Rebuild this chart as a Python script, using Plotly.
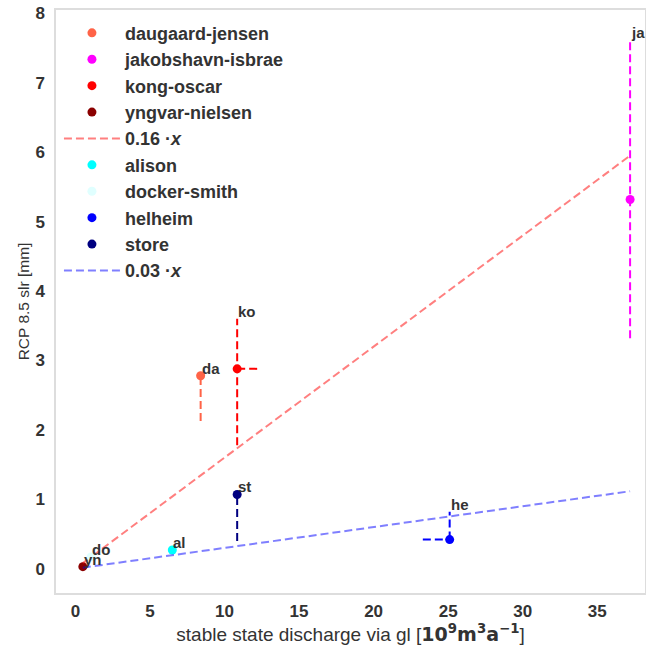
import numpy as np
import plotly.graph_objects as go

# glaciers, grouped by fit
glaciers = ["daugaard-jensen", "jakobshavn-isbrae", "kong-oscar", "yngvar-nielsen",
            "alison", "docker-smith", "helheim", "store"]
short = ["da", "ja", "ko", "yn", "al", "do", "he", "st"]
colors = ["tomato", "magenta", "red", "darkred", "cyan", "lightcyan", "blue", "navy"]
group = [0, 0, 0, 0, 1, 1, 1, 1]

discharge = [8.4, 37.2, 10.85, 0.5, 6.5, 1.05, 25.1, 10.85]
slr = [2.78, 5.32, 2.88, 0.03, 0.27, 0.17, 0.42, 1.07]
slr_err_minus = [0.65, 2.0, 1.1, 0.0, 0.0, 0.0, 0.0, 0.67]
slr_err_plus = [0.0, 2.3, 0.72, 0.0, 0.0, 0.0, 0.4, 0.0]
q_err_minus = [0.0, 0.0, 0.0, 0.0, 0.0, 0.0, 1.8, 0.0]
q_err_plus = [0.0, 0.0, 1.4, 0.0, 0.0, 0.0, 0.0, 0.0]

slopes = [0.16, 0.03]
fit_colors = ["rgba(255,0,0,0.5)", "rgba(0,0,255,0.5)"]

font = "Liberation Sans, Arial, sans-serif"
dash = "8px,4px"
fig = go.Figure()

def add_errors(i):
    c = colors[i]
    x, y = discharge[i], slr[i]
    segs = []
    if slr_err_minus[i] or slr_err_plus[i]:
        segs.append(([x, x], [y - slr_err_minus[i], y + slr_err_plus[i]]))
    if q_err_minus[i] or q_err_plus[i]:
        segs.append(([x - q_err_minus[i], x + q_err_plus[i]], [y, y]))
    for xs, ys in segs:
        fig.add_trace(go.Scatter(x=xs, y=ys, mode="lines", showlegend=False,
                                 line=dict(color=c, width=2, dash=dash),
                                 hoverinfo="skip"))

for g in range(2):
    idx = [i for i in range(len(glaciers)) if group[i] == g]
    for i in idx:
        add_errors(i)
        fig.add_trace(go.Scatter(
            x=[discharge[i]], y=[slr[i]], mode="markers",
            marker=dict(color=colors[i], size=9),
            name="<b>" + glaciers[i] + "</b>"))
        # label sits on top of the upper error bar
        fig.add_annotation(x=discharge[i], y=slr[i] + slr_err_plus[i],
                           text="<b>" + short[i] + "</b>", showarrow=False,
                           xanchor="left", yanchor="bottom", xshift=-1, yshift=-3,
                           font=dict(size=15, color="#333333", family=font))
    xs = np.array([min(discharge), max(discharge)])
    fig.add_trace(go.Scatter(
        x=xs, y=slopes[g] * xs, mode="lines",
        line=dict(color=fit_colors[g], width=2, dash=dash),
        name="<b>%.2f \u00b7<i>x</i></b>" % slopes[g]))

unit = ("<span style=\"font-family:'DejaVu Sans';font-weight:bold\">"
        "10<sup>9</sup>m<sup>3</sup>a<sup>\u22121</sup></span>")

fig.update_layout(
    width=646, height=649,
    margin=dict(l=56, r=1, t=10, b=56),
    plot_bgcolor="white", paper_bgcolor="white",
    font=dict(family=font, color="#333333"),
    legend=dict(x=0.005, y=0.992, xanchor="left", yanchor="top",
                font=dict(size=18, color="#333333"), itemwidth=56,
                bgcolor="rgba(0,0,0,0)", tracegroupgap=0),
    xaxis=dict(range=[-1.3, 38.2], tickvals=[0, 5, 10, 15, 20, 25, 30, 35],
               ticktext=["<b>%d</b>" % v for v in [0, 5, 10, 15, 20, 25, 30, 35]],
               tickfont=dict(size=17), showgrid=False, zeroline=False,
               showline=True, linecolor="#dddddd", linewidth=1.5, mirror=True,
               automargin=False, ticklabelstandoff=2,
               title=dict(text="stable state discharge via gl [" + unit + "]",
                          font=dict(size=19), standoff=4)),
    yaxis=dict(range=[-0.35, 8.05], tickvals=list(range(9)),
               ticktext=["<b>%d</b>" % v for v in range(9)],
               tickfont=dict(size=17), showgrid=False, zeroline=False,
               showline=True, linecolor="#dddddd", linewidth=1.5, mirror=True,
               automargin=False, ticklabelstandoff=6,
               title=dict(text="RCP 8.5 slr [mm]", font=dict(size=15.5), standoff=2)),
)

fig.write_html("out.html", config={"displayModeBar": False},
               post_script="document.body.style.margin='0';")
